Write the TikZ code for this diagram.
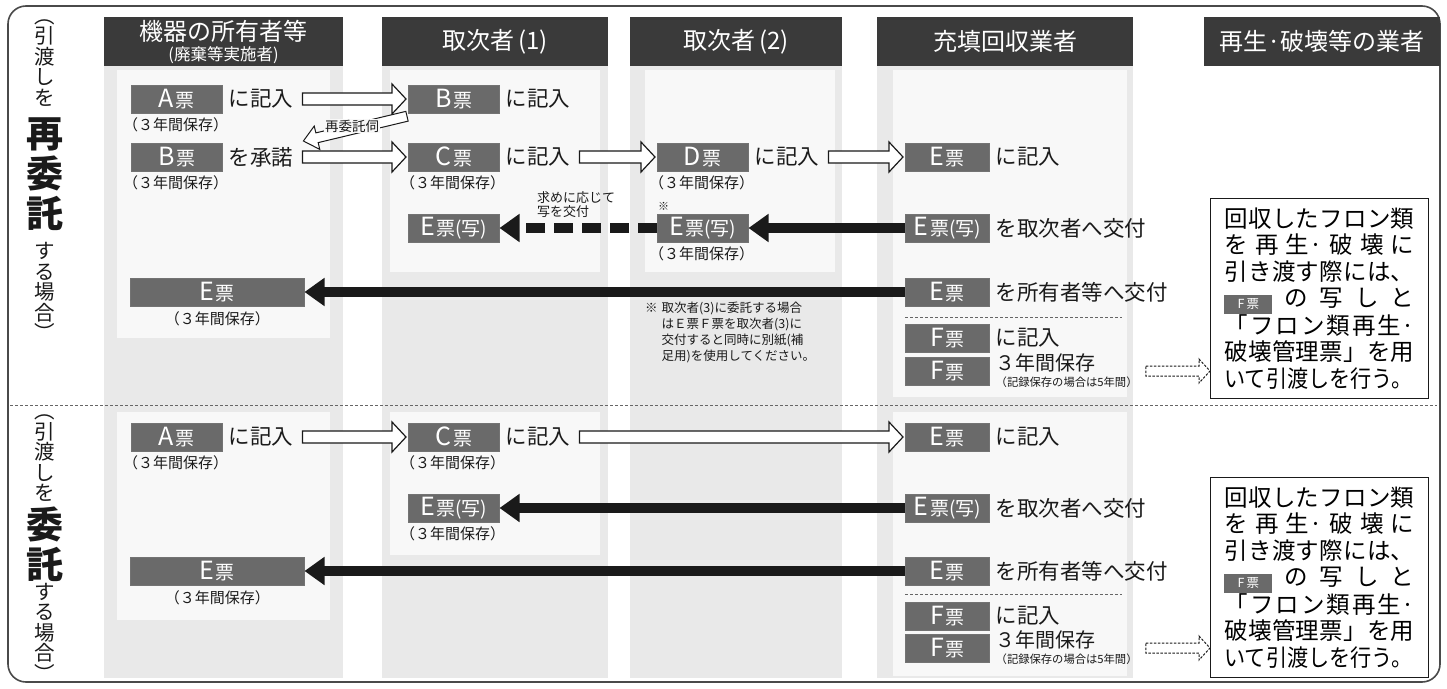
\documentclass[tikz,border=0pt]{standalone}
\usepackage{fontspec}
\usepackage{graphicx}
\setmainfont{Noto Sans CJK JP}
\usetikzlibrary{arrows.meta,calc}
\definecolor{hdrc}{HTML}{3A3A3A}
\definecolor{docc}{HTML}{6A6A6A}
\definecolor{colbg}{HTML}{E9E9E9}
\definecolor{panelc}{HTML}{F8F8F8}
\definecolor{inkc}{HTML}{1A1A1A}
\definecolor{framec}{HTML}{4A4A4A}
\setlength\fboxsep{1pt}
\newcommand\fs[1]{\fontsize{#1}{#1}\selectfont}
\newcommand\dl[2]{{\fs{25}#1}\,{\fs{19}#2}}
\newcommand\harr[3][]{\draw[hollow,#1] let \p1=(#2), \p2=(#3) in (\x1,\y1+6pt) -- (\x2-14pt,\y1+6pt) -- (\x2-14pt,\y1+15pt) -- (\x2,\y1) -- (\x2-14pt,\y1-15pt) -- (\x2-14pt,\y1-6pt) -- (\x1,\y1-6pt) -- cycle;}
\newcommand\darr[2]{\draw[hollow,dash pattern=on 2.5pt off 1.5pt,line width=1pt] let \p1=(#1), \p2=(#2) in (\x1,\y1+5pt) -- (\x2-11pt,\y1+5pt) -- (\x2-11pt,\y1+12pt) -- (\x2,\y1) -- (\x2-11pt,\y1-12pt) -- (\x2-11pt,\y1-5pt) -- (\x1,\y1-5pt) -- cycle;}
\newcommand\fbx{\raisebox{-2pt}{\colorbox{docc}{\makebox[46pt]{\rule[-4pt]{0pt}{17pt}\fs{12.5}\textcolor{white}{F\,票}}}}}
\newcommand\tbtext{%
\makebox[190pt][s]{回\hfil 収\hfil し\hfil た\hfil フ\hfil ロ\hfil ン\hfil 類}\\
\makebox[190pt][s]{を\hfil 再\hfil 生·\hfil 破\hfil 壊\hfil に}\\
\makebox[190pt][s]{引\hfil き\hfil 渡\hfil す\hfil 際\hfil に\hfil は、}\\
\makebox[190pt][s]{\fbx\hfil の\hfil 写\hfil し\hfil と}\\
\makebox[190pt][s]{「\hfil フ\hfil ロ\hfil ン\hfil 類\hfil 再\hfil 生·}\\
\makebox[190pt][s]{破\hfil 壊\hfil 管\hfil 理\hfil 票」\hfil を\hfil 用}\\
\makebox[190pt][s]{\scalebox{0.9}[1]{いて引渡しを行う。}}}
\newcommand\kp{（３年間保存）}
\newcommand\kpf{{\fs{20}３年間保存}\\[-4pt]{\fs{11.3}（記録保存の場合は5年間）}}
\begin{document}
\begin{tikzpicture}[x=1pt,y=-1pt,
  hdr/.style={fill=hdrc, text=white, font=\fs{24}, minimum height=49pt, inner sep=0pt, align=center},
  doc/.style={fill=docc, draw=black!55, line width=0.5pt, text=white, minimum height=28pt, minimum width=91pt, inner sep=0pt, anchor=west},
  lbl/.style={anchor=west, inner sep=0pt, font=\fs{21.5}, text=inkc},
  keep/.style={anchor=north west, inner sep=0pt, font=\fs{15}, text=inkc},
  thk/.style={draw=inkc, line width=10pt, -{Triangle[length=20pt,width=27pt]}},
  hollow/.style={draw=inkc, line width=1.2pt, fill=white, line join=miter},
  sep/.style={draw=black!60, line width=0.7pt, dash pattern=on 3pt off 2pt},
  tbox/.style={draw=inkc, line width=0.9pt, fill=white, minimum width=218pt, minimum height=200pt, text width=190pt, inner sep=0pt, align=left, font=\fontsize{23.5}{26.5}\selectfont, anchor=north west},
  vsmall/.style={inner sep=0pt, align=center, font=\fontsize{20.5}{20.5}\selectfont, text=inkc},
  vbig/.style={inner sep=0pt, align=center, font=\fontsize{37}{40}\selectfont\bfseries, text=inkc}]
\useasboundingbox (0,0) rectangle (1447,688);
% frame
\draw[framec, line width=1.6pt, fill=white, rounded corners=18pt] (8,6) rectangle (1440,682);
% columns
\fill[colbg] (104,66) rectangle (343,678);
\fill[colbg] (382,66) rectangle (608,678);
\fill[colbg] (630,66) rectangle (842,678);
\fill[colbg] (877,66) rectangle (1133,678);
\fill[panelc] (117,70) rectangle (330,338);
\fill[panelc] (390,70) rectangle (600,272);
\fill[panelc] (645,70) rectangle (835,272);
\fill[panelc] (893,70) rectangle (1127,397);
\fill[panelc] (117,412) rectangle (330,620);
\fill[panelc] (390,412) rectangle (600,555);
\fill[panelc] (893,412) rectangle (1127,676);
\draw[sep] (10,405) -- (1437,405);
% headers
\node[hdr, minimum width=239pt] (h1) at (223.5,41.5) {機器の所有者等\\[-4pt]{\fs{16.5}(廃棄等実施者)}};
\node[hdr, minimum width=226pt] (h2) at (495,41.5) {取次者\,(1)};
\node[hdr, minimum width=212pt] (h3) at (736,41.5) {取次者\,(2)};
\node[hdr, minimum width=256pt] (h4) at (1005,41.5) {充填回収業者};
\node[hdr, minimum width=236pt] (h5) at (1322,41.5) {再生·破壊等の業者};
% left labels
\node[vsmall] (v1a) at (45,63) {︵\\引\\渡\\し\\を};
\node[vbig] (v1b) at (45,174.5) {再\\委\\託};
\node[vsmall] (v1c) at (45,291.5) {す\\る\\場\\合\\︶};
\node[vsmall] (v2a) at (45,458.5) {︵\\引\\渡\\し\\を};
\node[vbig] (v2b) at (45,544.5) {委\\託};
\node[vsmall] (v2c) at (45,632) {す\\る\\場\\合\\︶};
% ===== top section =====
\node[doc] (a1) at (131,99) {\dl{A}{票}};
\node[lbl] (a1t) at ($(a1.east)+(6,0)$) {に記入};
\node[doc] (b1) at (408,99) {\dl{B}{票}};
\node[lbl] (b1t) at ($(b1.east)+(6,0)$) {に記入};
\harr{$(a1t.east)+(9,0)$}{$(b1.west)+(-2,0)$}
\node[keep] (k1) at ($(a1.south west)+(-8,4)$) {\kp};
\node[doc] (b2) at (131,157) {\dl{B}{票}};
\node[lbl] (b2t) at ($(b2.east)+(6,0)$) {を承諾};
\node[doc] (c2) at (408,157) {\dl{C}{票}};
\node[lbl] (c2t) at ($(c2.east)+(6,0)$) {に記入};
\node[doc] (d2) at (657,157) {\dl{D}{票}};
\node[lbl] (d2t) at ($(d2.east)+(6,0)$) {に記入};
\node[doc, minimum width=84pt] (e2) at (905,157) {\dl{E}{票}};
\node[lbl] (e2t) at ($(e2.east)+(6,0)$) {に記入};
\harr{$(b2t.east)+(9,0)$}{$(c2.west)+(-2,0)$}
\harr{$(c2t.east)+(9,0)$}{$(d2.west)+(-2,0)$}
\harr{$(d2t.east)+(9,0)$}{$(e2.west)+(-2,0)$}
\node[keep] (k2) at ($(b2.south west)+(-8,4)$) {\kp};
\node[keep] (k3) at ($(c2.south west)+(-8,4)$) {\kp};
\node[keep] (k4) at ($(d2.south west)+(-8,4)$) {\kp};
% re-consignment inquiry arrow
\coordinate (rtail) at ($(b1.south west)+(-1,3)$);
\coordinate (rtip) at ($(b2t.east)+(10,-16)$);
\coordinate (rhb) at ($(rtip)!14pt!(rtail)$);
\draw[hollow, line width=1pt] ($(rtail)!5pt!90:(rtip)$) -- ($(rhb)!5pt!90:(rtip)$) -- ($(rhb)!12pt!90:(rtip)$) -- (rtip) -- ($(rhb)!12pt!-90:(rtip)$) -- ($(rhb)!5pt!-90:(rtip)$) -- ($(rtail)!5pt!-90:(rtip)$) -- cycle;
\node[inner sep=1pt, fill=panelc, font=\fs{13.5}, text=inkc] (rtx) at (352,126) {再委託伺};
% row 3
\node[doc] (e3b) at (408,228) {\dl{E}{票(写)}};
\node[doc] (e3c) at (657,228) {\dl{E}{票(写)}};
\node[doc, minimum width=84pt] (e3d) at (905,228) {\dl{E}{票(写)}};
\node[lbl] (e3dt) at ($(e3d.east)+(6,0)$) {を取次者へ交付};
\draw[thk] (e3d.west) -- (e3c.east);
\draw[thk, dash pattern=on 19pt off 9pt] (e3c.west) -- (e3b.east);
\node[keep] (k5) at ($(e3c.south west)+(-8,4)$) {\kp};
\node[inner sep=0pt, font=\fs{11}, anchor=south west, text=inkc] (kome) at ($(e3c.north west)+(1,-3)$) {※};
\node[keep, align=left, font=\fontsize{13}{14}\selectfont] (req) at (537,191) {求めに応じて\\写を交付};
% row 4
\node[doc, minimum width=174pt] (e4a) at (130,292) {\dl{E}{票}};
\node[keep, anchor=north] (k6) at ($(e4a.south)+(0,5)$) {\kp};
\node[doc, minimum width=84pt] (e4d) at (905,292) {\dl{E}{票}};
\node[lbl] (e4dt) at ($(e4d.east)+(6,0)$) {を所有者等へ交付};
\draw[thk] (e4d.west) -- (e4a.east);
\node[keep, align=left, font=\fontsize{12.5}{16}\selectfont] (fn) at (645,302) {※\hspace{4pt}取次者(3)に委託する場合\\\hspace{16.5pt}はＥ票Ｆ票を取次者(3)に\\\hspace{16.5pt}交付すると同時に別紙(補\\\hspace{16.5pt}足用)を使用してください。};
\draw[sep] ($(e4d.south west)+(0,11)$) -- ++(217,0);
\node[doc, minimum width=84pt] (f1) at (905,338) {\dl{F}{票}};
\node[lbl] (f1t) at ($(f1.east)+(6,0)$) {に記入};
\node[doc, minimum width=84pt] (f2) at (905,371) {\dl{F}{票}};
\node[lbl, align=left, font=\fontsize{20}{20}\selectfont] (f2t) at ($(f2.east)+(6,0)$) {\kpf};
\node[tbox] (tb1) at (1210,198) {\tbtext};
\darr{$(f2t.east)+(8,0)$}{tb1.west}
% ===== bottom section =====
\node[doc] (a5) at (131,437) {\dl{A}{票}};
\node[lbl] (a5t) at ($(a5.east)+(6,0)$) {に記入};
\node[doc] (c5) at (408,437) {\dl{C}{票}};
\node[lbl] (c5t) at ($(c5.east)+(6,0)$) {に記入};
\node[doc, minimum width=84pt] (e5) at (905,437) {\dl{E}{票}};
\node[lbl] (e5t) at ($(e5.east)+(6,0)$) {に記入};
\harr{$(a5t.east)+(9,0)$}{$(c5.west)+(-2,0)$}
\harr{$(c5t.east)+(9,0)$}{$(e5.west)+(-2,0)$}
\node[keep] (k7) at ($(a5.south west)+(-8,4)$) {\kp};
\node[keep] (k8) at ($(c5.south west)+(-8,4)$) {\kp};
\node[doc] (e6b) at (408,508) {\dl{E}{票(写)}};
\node[doc, minimum width=84pt] (e6d) at (905,508) {\dl{E}{票(写)}};
\node[lbl] (e6dt) at ($(e6d.east)+(6,0)$) {を取次者へ交付};
\draw[thk] (e6d.west) -- (e6b.east);
\node[keep] (k9) at ($(e6b.south west)+(-8,4)$) {\kp};
\node[doc, minimum width=174pt] (e7a) at (130,571) {\dl{E}{票}};
\node[keep, anchor=north] (k10) at ($(e7a.south)+(0,5)$) {\kp};
\node[doc, minimum width=84pt] (e7d) at (905,571) {\dl{E}{票}};
\node[lbl] (e7dt) at ($(e7d.east)+(6,0)$) {を所有者等へ交付};
\draw[thk] (e7d.west) -- (e7a.east);
\draw[sep] ($(e7d.south west)+(0,9)$) -- ++(217,0);
\node[doc, minimum width=84pt] (f3) at (905,616) {\dl{F}{票}};
\node[lbl] (f3t) at ($(f3.east)+(6,0)$) {に記入};
\node[doc, minimum width=84pt] (f4) at (905,648) {\dl{F}{票}};
\node[lbl, align=left, font=\fontsize{20}{20}\selectfont] (f4t) at ($(f4.east)+(6,0)$) {\kpf};
\node[tbox] (tb2) at (1210,477) {\tbtext};
\darr{$(f4t.east)+(8,0)$}{tb2.west}
\end{tikzpicture}
\end{document}
